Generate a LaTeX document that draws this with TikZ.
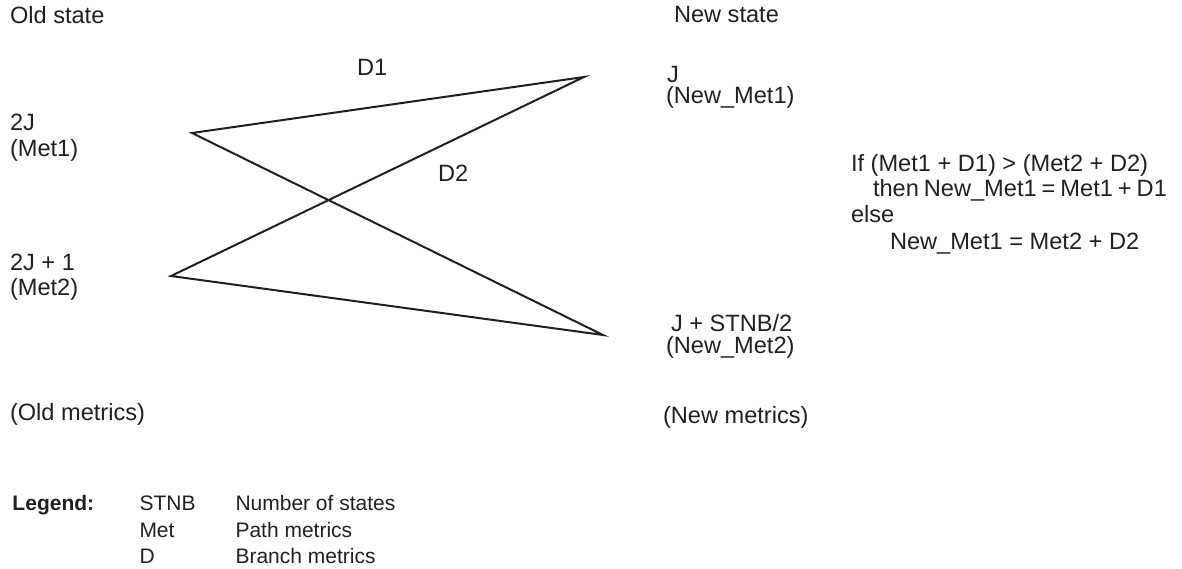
\documentclass[tikz,border=0pt]{standalone}
\usepackage{fontspec}
\setmainfont{Liberation Sans}
\definecolor{ink}{HTML}{231F20}
\begin{document}
\begin{tikzpicture}[x=1pt,y=-1pt,
  lbl/.style={anchor=base west,inner sep=0pt,outer sep=0pt,text=ink,font=\fontsize{23.6}{28}\selectfont},
  leg/.style={anchor=base west,inner sep=0pt,outer sep=0pt,text=ink,font=\fontsize{21}{25}\selectfont},
  branch/.style={draw=ink,line width=2pt,line join=miter}]
\useasboundingbox (0,0) rectangle (1182,569);
% trellis states
\coordinate (A) at (192,133);
\coordinate (B) at (171,276);
\coordinate (C) at (584,77);
\coordinate (D) at (603,335);
\draw[branch] (A) -- (C) -- (B) -- (D) -- cycle;
% headings
\node[lbl] (oldstate) at (10,24) {Old state};
\node[lbl] (newstate) at (674,23) {New state};
% old states
\node[lbl] (s1a) at (10,131) {2J};
\node[lbl] (s1b) at (10,157) {(Met1)};
\node[lbl] (s2a) at (10,270) {2J + 1};
\node[lbl] (s2b) at (10,295) {(Met2)};
% branch labels
\node[lbl] (d1) at (357,76) {D1};
\node[lbl] (d2) at (438,182) {D2};
% new states
\node[lbl] (n1a) at (667,82.5) {J};
\node[lbl] (n1b) at (666,104) {(New\_Met1)};
\node[lbl] (n2a) at (671,331) {J + STNB/2};
\node[lbl] (n2b) at (666,353) {(New\_Met2)};
% metrics
\node[lbl] (oldm) at (10,420) {(Old metrics)};
\node[lbl] (newm) at (663,423) {(New metrics)};
% condition
\node[lbl] (c1) at (851,172) {If (Met1 + D1) > (Met2 + D2)};
\node[lbl] (c2) at (873,197) {\spaceskip=5pt then New\_Met1 = Met1 + D1};
\node[lbl] (c3) at (851,223) {else};
\node[lbl] (c4) at (890,249) {New\_Met1 = Met2 + D2};
% legend
\node[leg,font=\fontsize{21}{25}\selectfont\bfseries] (lg) at (12.5,510) {Legend:};
\node[leg] (k1) at (139.5,510) {STNB};
\node[leg] (v1) at (235.5,510) {Number of states};
\node[leg] (k2) at (139.5,537) {Met};
\node[leg] (v2) at (235.5,537) {Path metrics};
\node[leg] (k3) at (139.5,563) {D};
\node[leg] (v3) at (235.5,563) {Branch metrics};
\end{tikzpicture}
\end{document}
